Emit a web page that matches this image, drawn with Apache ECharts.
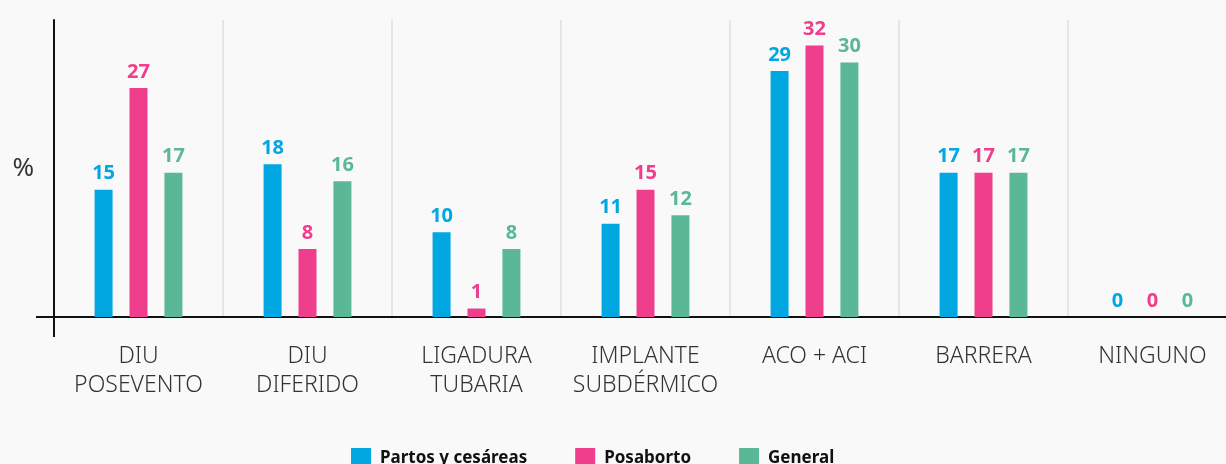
<!DOCTYPE html>
<html>
<head>
<meta charset="utf-8">
<script src="https://cdn.jsdelivr.net/npm/echarts@6/dist/echarts.min.js"></script>
<style>
  html, body { margin: 0; padding: 0; background: #f9f9f9; }
  #chart { width: 1226px; height: 464px; }
</style>
</head>
<body>
<div id="chart"></div>
<script>
// categorias y valores (%)
var categorias = ['DIU\nPOSEVENTO', 'DIU\nDIFERIDO', 'LIGADURA\nTUBARIA', 'IMPLANTE\nSUBDÉRMICO', 'ACO + ACI', 'BARRERA', 'NINGUNO'];
var partos = [15, 18, 10, 11, 29, 17, 0];
var posaborto = [27, 8, 1, 15, 32, 17, 0];
var general = [17, 16, 8, 12, 30, 17, 0];

var colores = ['#00a7e1', '#ef3e8c', '#5bb896'];

var chart = echarts.init(document.getElementById('chart'));

function serie(nombre, datos, color) {
  return {
    name: nombre,
    type: 'bar',
    data: datos,
    barWidth: 18,
    barGap: '94%',
    itemStyle: { color: color },
    label: {
      show: true,
      position: 'top',
      distance: 6,
      color: color,
      fontFamily: 'Noto Sans',
      fontWeight: 'bold',
      fontSize: 20
    }
  };
}

var option = {
  backgroundColor: '#f9f9f9',
  animation: false,
  grid: {
    left: 54,
    top: 20,
    right: -11,
    bottom: 147,
    outerBoundsMode: 'none'
  },
  legend: {
    top: 443,
    left: 346,
    icon: 'rect',
    itemWidth: 20,
    itemHeight: 20,
    itemGap: 48,
    textStyle: {
      fontFamily: 'Noto Sans',
      fontWeight: 'bold',
      fontSize: 17,
      color: '#111',
      padding: [0, 0, 0, 4]
    },
    data: ['Partos y cesáreas', 'Posaborto', 'General']
  },
  xAxis: {
    type: 'category',
    data: categorias,
    axisLine: { lineStyle: { color: '#111', width: 2 } },
    axisTick: { show: false },
    splitLine: { show: true, interval: 0, lineStyle: { color: '#e6e6e6', width: 2 } },
    axisLabel: {
      interval: 0,
      margin: 25,
      fontFamily: 'Noto Sans',
      fontWeight: 300,
      fontSize: 23,
      lineHeight: 29,
      color: '#333'
    }
  },
  yAxis: {
    type: 'value',
    min: 0,
    max: 35,
    name: '%',
    nameLocation: 'middle',
    nameRotate: 0,
    nameGap: 20,
    nameTextStyle: { fontFamily: 'Noto Sans', fontSize: 26, color: '#333' },
    axisLine: { show: true, lineStyle: { color: '#111', width: 2 } },
    axisTick: { show: false },
    axisLabel: { show: false },
    splitLine: { show: false }
  },
  graphic: [
    // pequeños tramos de los ejes que cruzan el origen
    { type: 'line', shape: { x1: 36, y1: 317, x2: 54, y2: 317 }, style: { stroke: '#111', lineWidth: 2 } },
    { type: 'line', shape: { x1: 54, y1: 317, x2: 54, y2: 337 }, style: { stroke: '#111', lineWidth: 2 } }
  ],
  series: [
    serie('Partos y cesáreas', partos, colores[0]),
    serie('Posaborto', posaborto, colores[1]),
    serie('General', general, colores[2])
  ]
};

chart.setOption(option);
</script>
</body>
</html>
